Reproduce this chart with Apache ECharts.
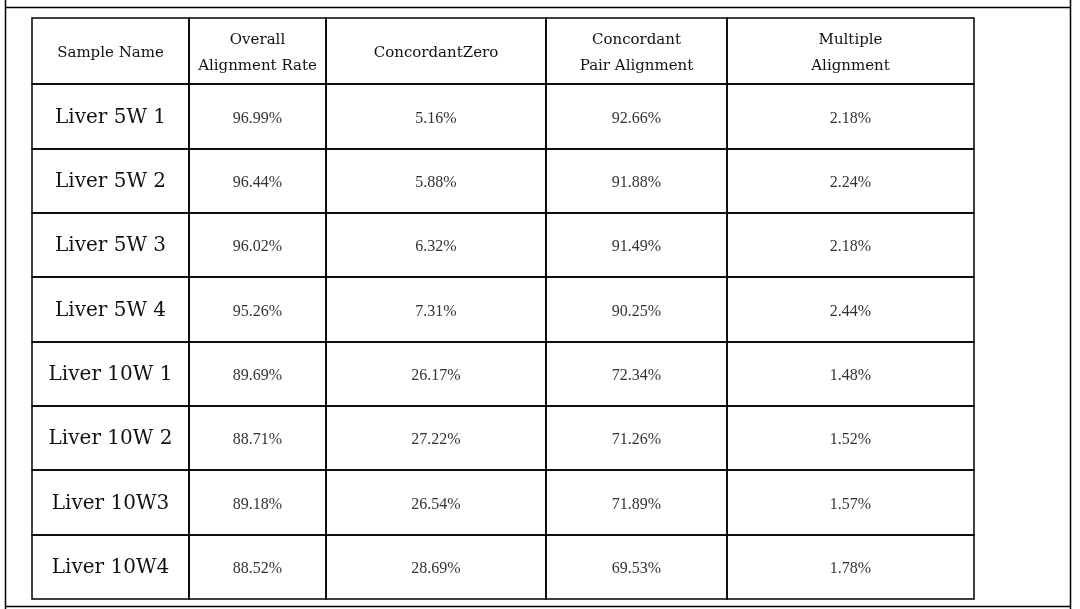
<!DOCTYPE html>
<html>
<head>
<meta charset="utf-8">
<script src="https://cdn.jsdelivr.net/npm/echarts@6/dist/echarts.min.js"></script>
<style>
html,body{margin:0;padding:0;background:#fff;}
#main{width:1080px;height:609px;}
</style>
</head>
<body>
<div id="main"></div>
<script>
// ---- data ----
const headers = ['Sample Name', 'Overall\nAlignment Rate', 'ConcordantZero', 'Concordant\nPair Alignment', 'Multiple\nAlignment'];
const sampleNames = ['Liver 5W 1', 'Liver 5W 2', 'Liver 5W 3', 'Liver 5W 4', 'Liver 10W 1', 'Liver 10W 2', 'Liver 10W3', 'Liver 10W4'];
const overallAlignmentRate = [96.99, 96.44, 96.02, 95.26, 89.69, 88.71, 89.18, 88.52];
const concordantZero = [5.16, 5.88, 6.32, 7.31, 26.17, 27.22, 26.54, 28.69];
const concordantPairAlignment = [92.66, 91.88, 91.49, 90.25, 72.34, 71.26, 71.89, 69.53];
const multipleAlignment = [2.18, 2.24, 2.18, 2.44, 1.48, 1.52, 1.57, 1.78];

// ---- layout (cell boundaries in axis units) ----
const colEdges = [0, 157, 294, 514, 695, 942];
const rowEdges = [0, 66, 131, 195, 259, 324, 388, 452, 517, 581];

const valueCols = [overallAlignmentRate, concordantZero, concordantPairAlignment, multipleAlignment];
const cells = [];
headers.forEach((h, c) => cells.push({col: c, row: 0, text: h, kind: 'header'}));
sampleNames.forEach((name, r) => {
  cells.push({col: 0, row: r + 1, text: name, kind: 'name'});
  valueCols.forEach((arr, i) => {
    cells.push({col: i + 1, row: r + 1, text: arr[r].toFixed(2) + '%', kind: 'value'});
  });
});

const fonts = {
  header: '15px "DejaVu Serif", serif',
  name: '20px "DejaVu Serif", serif',
  value: '16px "Liberation Serif", serif'
};
const colors = {header: '#111', name: '#111', value: '#333'};
const textShift = {header: 2, name: 1, value: 2};

const chart = echarts.init(document.getElementById('main'), null, {renderer: 'canvas'});
chart.setOption({
  animation: false,
  backgroundColor: '#fff',
  grid: {left: 32, top: 18, width: 942, height: 581},
  xAxis: {type: 'value', min: 0, max: 942, show: false},
  yAxis: {type: 'value', min: 0, max: 581, inverse: true, show: false},
  graphic: [
    {type: 'line', shape: {x1: 5, y1: 7.5, x2: 1071, y2: 7.5}, style: {stroke: '#000', lineWidth: 1.5}},
    {type: 'line', shape: {x1: 5.5, y1: 0, x2: 5.5, y2: 609}, style: {stroke: '#000', lineWidth: 1.5}},
    {type: 'line', shape: {x1: 1070.5, y1: 0, x2: 1070.5, y2: 609}, style: {stroke: '#000', lineWidth: 1.5}},
    {type: 'line', shape: {x1: 5, y1: 606.5, x2: 1071, y2: 606.5}, style: {stroke: '#000', lineWidth: 1.5}}
  ],
  series: [{
    type: 'custom',
    coordinateSystem: 'cartesian2d',
    data: cells.map(c => [c.col, c.row]),
    renderItem: function (params, api) {
      const cell = cells[params.dataIndex];
      const p0 = api.coord([colEdges[cell.col], rowEdges[cell.row]]);
      const p1 = api.coord([colEdges[cell.col + 1], rowEdges[cell.row + 1]]);
      const x = Math.min(p0[0], p1[0]), y = Math.min(p0[1], p1[1]);
      const w = Math.abs(p1[0] - p0[0]), h = Math.abs(p1[1] - p0[1]);
      return {
        type: 'group',
        children: [
          {type: 'rect', shape: {x: x, y: y, width: w, height: h},
           style: {fill: 'rgba(0,0,0,0)', stroke: '#000', lineWidth: 1.5}},
          {type: 'text', x: x + w / 2, y: y + h / 2 + textShift[cell.kind],
           style: {text: cell.text, font: fonts[cell.kind], fill: colors[cell.kind],
                   align: 'center', verticalAlign: 'middle', lineHeight: 26}}
        ]
      };
    }
  }]
});
</script>
</body>
</html>
